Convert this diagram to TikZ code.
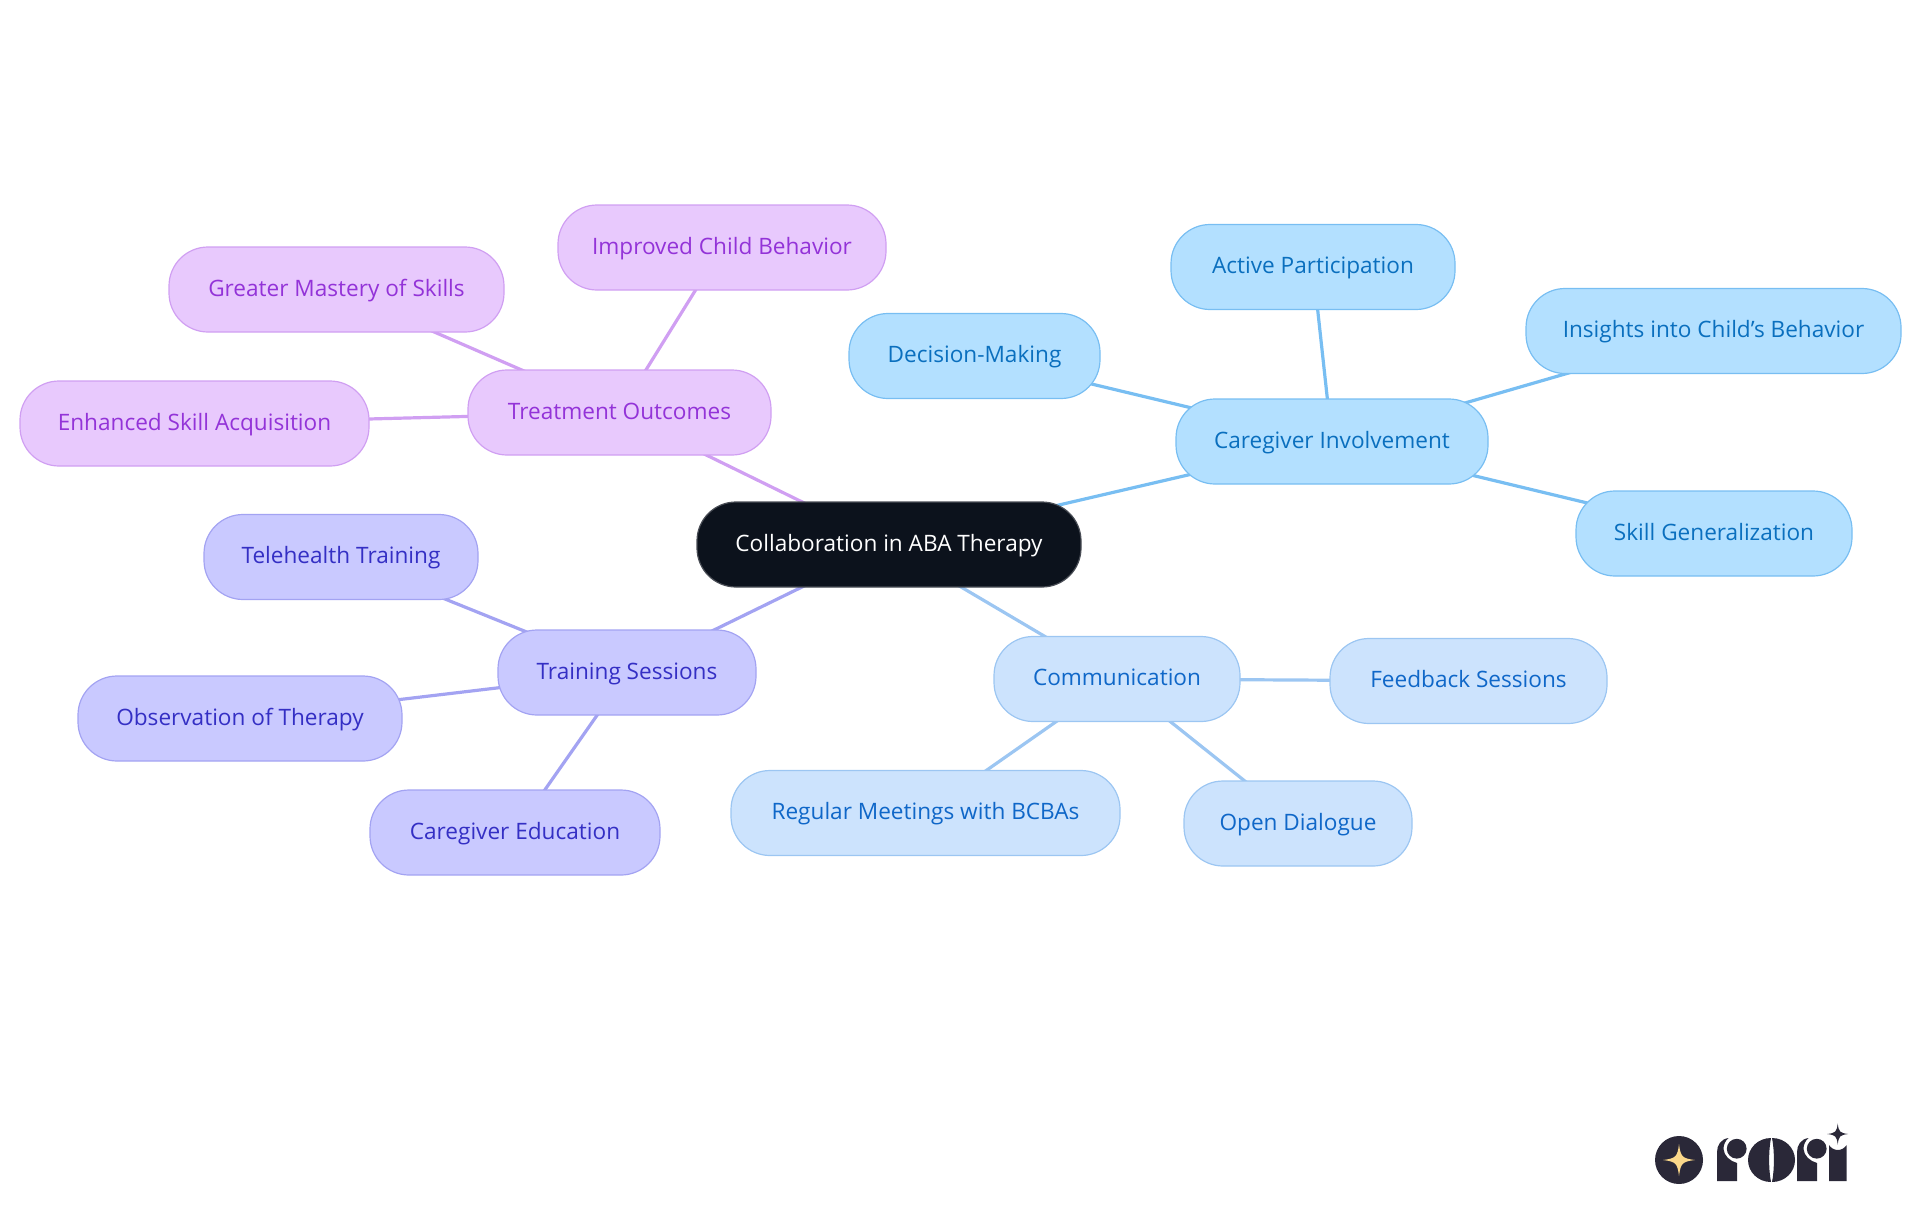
\documentclass[tikz,border=0pt]{standalone}
\usepackage{fontspec}
\setmainfont{Open Sans}
\usetikzlibrary{backgrounds}
\definecolor{rootfill}{HTML}{0C121C}
\definecolor{cafill}{HTML}{B3E0FF}\definecolor{caline}{HTML}{78BEF2}\definecolor{catext}{HTML}{0A6FBE}
\definecolor{cofill}{HTML}{CCE3FD}\definecolor{coline}{HTML}{9CC6F2}\definecolor{cotext}{HTML}{0F67C8}
\definecolor{trfill}{HTML}{C9C9FF}\definecolor{trline}{HTML}{A3A3F2}\definecolor{trtext}{HTML}{342FC4}
\definecolor{tofill}{HTML}{E8C9FD}\definecolor{toline}{HTML}{D09FF2}\definecolor{totext}{HTML}{9333D8}
\definecolor{logodark}{HTML}{2A2838}\definecolor{logostar}{HTML}{FBD88A}
\tikzset{
  x=0.5pt,y=-0.5pt,
  mmbox/.style={rectangle,rounded corners=19.5pt,line width=0.6pt,minimum height=42.5pt,inner sep=0pt,text height=8pt,text depth=1.3pt,font=\fontsize{11.3}{13}\selectfont},
  rootbox/.style={mmbox,draw=rootfill!75!white,fill=rootfill,text=white},
  cabox/.style={mmbox,draw=caline,fill=cafill,text=catext},
  cobox/.style={mmbox,draw=coline,fill=cofill,text=cotext},
  trbox/.style={mmbox,draw=trline,fill=trfill,text=trtext},
  tobox/.style={mmbox,draw=toline,fill=tofill,text=totext},
  cedge/.style={line width=1.6pt,caline},
  coedge/.style={line width=1.6pt,coline},
  tredge/.style={line width=1.6pt,trline},
  toedge/.style={line width=1.6pt,toline},
}
\newcommand{\mmnode}[6]{% style,name,x0,x1,ycenter,text
  \pgfmathsetmacro{\mmw}{(#4-#3)*0.5}
  \pgfmathsetmacro{\mmx}{(#3+#4)/2}
  \node[#1,minimum width=\mmw pt] (#2) at (\mmx,#5) {#6};}
\newcommand{\fourstar}[3]{% x,y,r
  \fill (#1-#3,#2) .. controls (#1-#3*0.2,#2-#3*0.1) and (#1-#3*0.1,#2-#3*0.2) .. (#1,#2-#3)
   .. controls (#1+#3*0.1,#2-#3*0.2) and (#1+#3*0.2,#2-#3*0.1) .. (#1+#3,#2)
   .. controls (#1+#3*0.2,#2+#3*0.1) and (#1+#3*0.1,#2+#3*0.2) .. (#1,#2+#3)
   .. controls (#1-#3*0.1,#2+#3*0.2) and (#1-#3*0.2,#2+#3*0.1) .. (#1-#3,#2) -- cycle;}
\newcommand{\logor}[1]{% left edge of the letter r
  \fill (#1,1181) -- (#1,1152) .. controls (#1,1145) and (#1+4,1139) .. (#1+11.5,1138)
    .. controls (#1+8,1141) and (#1+6.5,1145) .. (#1+6.5,1149)
    .. controls (#1+7,1156) and (#1+13,1161) .. (#1+20,1163) -- (#1+20,1181) -- cycle;
  \fill (#1+19.7,1148.7) circle[radius=4.95pt];}
\begin{document}
\begin{tikzpicture}
\useasboundingbox (0,0) rectangle (1920,1215);
\mmnode{rootbox}{root}{697}{1081}{544.5}{Collaboration in ABA Therapy}
\mmnode{cabox}{ca}{1176}{1488}{441.5}{Caregiver Involvement}
\mmnode{cabox}{ca1}{849}{1100}{356}{Decision-Making}
\mmnode{cabox}{ca2}{1171}{1455}{267}{Active Participation}
\mmnode{cabox}{ca3}{1526}{1901}{331}{Insights into Child's Behavior}
\mmnode{cabox}{ca4}{1576}{1852}{533.5}{Skill Generalization}
\mmnode{cobox}{co}{994}{1240}{679}{Communication}
\mmnode{cobox}{co1}{1330}{1607}{681}{Feedback Sessions}
\mmnode{cobox}{co2}{1184}{1412}{823.5}{Open Dialogue}
\mmnode{cobox}{co3}{731}{1120}{813}{Regular Meetings with BCBAs}
\mmnode{trbox}{tr}{498}{756}{672.5}{Training Sessions}
\mmnode{trbox}{tr1}{204}{478}{557}{Telehealth Training}
\mmnode{trbox}{tr2}{78}{402}{718.5}{Observation of Therapy}
\mmnode{trbox}{tr3}{370}{660}{832.5}{Caregiver Education}
\mmnode{tobox}{to}{468}{771}{412.5}{Treatment Outcomes}
\mmnode{tobox}{to1}{558}{886}{247.5}{Improved Child Behavior}
\mmnode{tobox}{to2}{169}{504}{289.5}{Greater Mastery of Skills}
\mmnode{tobox}{to3}{20}{369}{423.5}{Enhanced Skill Acquisition}
\begin{scope}[on background layer]
\draw[cedge] (root.center)--(ca.center);
\draw[cedge] (ca.center)--(ca1.center);
\draw[cedge] (ca.center)--(ca2.center);
\draw[cedge] (ca.center)--(ca3.center);
\draw[cedge] (ca.center)--(ca4.center);
\draw[coedge] (root.center)--(co.center);
\draw[coedge] (co.center)--(co1.center);
\draw[coedge] (co.center)--(co2.center);
\draw[coedge] (co.center)--(co3.center);
\draw[tredge] (root.center)--(tr.center);
\draw[tredge] (tr.center)--(tr1.center);
\draw[tredge] (tr.center)--(tr2.center);
\draw[tredge] (tr.center)--(tr3.center);
\draw[toedge] (root.center)--(to.center);
\draw[toedge] (to.center)--(to1.center);
\draw[toedge] (to.center)--(to2.center);
\draw[toedge] (to.center)--(to3.center);
\end{scope}
% logo
\fill[logodark] (1679,1160) circle[radius=12pt];
\begin{scope}[logostar]\fourstar{1679}{1160}{16}\end{scope}
\begin{scope}[logodark]
\fourstar{1837.7}{1134}{10.5}
\logor{1717}
\logor{1797}
% o
\fill (1771,1138) .. controls (1758,1138) and (1748,1148) .. (1748,1160) .. controls (1748,1172) and (1758,1182) .. (1771,1182) .. controls (1768.5,1170) and (1768.5,1150) .. (1771,1138) -- cycle;
\fill (1772,1138) .. controls (1785,1138) and (1795,1148) .. (1795,1160) .. controls (1795,1172) and (1785,1182) .. (1772,1182) .. controls (1774.5,1170) and (1774.5,1150) .. (1772,1138) -- cycle;
% i
\fill (1829,1181) -- (1829,1145) .. controls (1831,1148) and (1834,1150) .. (1837.8,1150) .. controls (1841.5,1150) and (1844.5,1148) .. (1846.7,1145) -- (1846.7,1181) -- cycle;
\end{scope}
\end{tikzpicture}
\end{document}
